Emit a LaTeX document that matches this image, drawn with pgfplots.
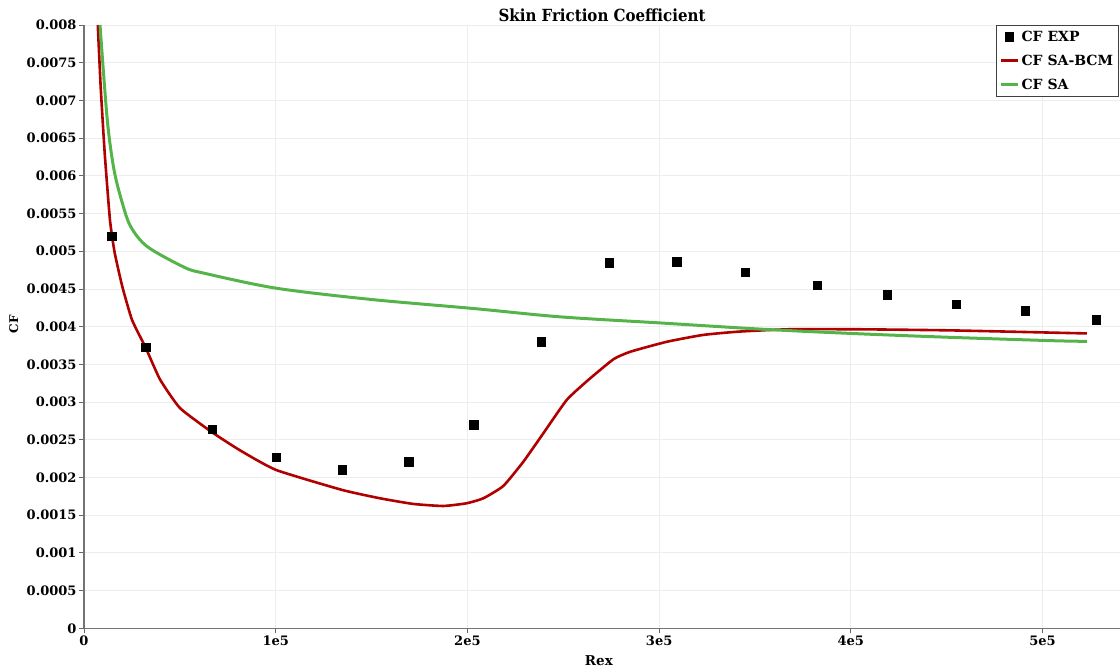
\documentclass[border=0pt]{standalone}
\usepackage{fontspec}
\setmainfont{DejaVu Serif}
\newfontfamily\condfont{DejaVu Serif Condensed}
\usepackage{pgfplots}
\pgfplotsset{compat=1.18}
\definecolor{bcm}{RGB}{176,0,0}
\definecolor{sa}{RGB}{84,180,74}
\begin{document}
\begin{tikzpicture}
\begin{axis}[
  scale only axis, width=1036pt, height=603.3pt,
  xmin=0, xmax=540400, ymin=0, ymax=0.008,
  axis x line*=bottom, axis y line*=left,
  xtick={0,100000,200000,300000,400000,500000},
  xticklabels={0,1e5,2e5,3e5,4e5,5e5},
  ytick={0,0.0005,0.001,0.0015,0.002,0.0025,0.003,0.0035,0.004,0.0045,0.005,0.0055,0.006,0.0065,0.007,0.0075,0.008},
  yticklabels={0,0.0005,0.001,0.0015,0.002,0.0025,0.003,0.0035,0.004,0.0045,0.005,0.0055,0.006,0.0065,0.007,0.0075,0.008},
  scaled x ticks=false, scaled y ticks=false,
  xtick pos=left, ytick pos=left,
  grid=major, major grid style={black!7, line width=0.8pt},
  tick align=outside, major tick length=5pt,
  tick style={black!60, line width=0.8pt},
  axis line style={black!55, line width=1.3pt},
  /pgf/number format/assume math mode=true,
  ticklabel style={font=\bfseries\fontsize{13}{13}\selectfont, text=black},
  xticklabel style={yshift=1pt},
  yticklabel style={xshift=1pt},
  title={Skin Friction Coefficient},
  title style={font=\condfont\bfseries\fontsize{16.7}{17}\selectfont, at={(axis description cs:0.5,1)}, anchor=base, yshift=-2.5pt},
  xlabel={Rex},
  xlabel style={font=\bfseries\fontsize{13.5}{14}\selectfont, at={(axis description cs:0.497,0)}, anchor=base, yshift=-37pt},
  ylabel={CF},
  ylabel style={font=\bfseries\fontsize{12}{12}\selectfont, at={(axis description cs:-0.0678,0.504)}, anchor=center},
  legend cell align=left,
  legend style={at={(axis description cs:0.999,1)}, anchor=north east, draw=black!75, line width=0.8pt,
    font=\bfseries\fontsize{14}{15}\selectfont, inner sep=3.5pt, row sep=8pt, fill=white},
]
\addplot[only marks, mark=square*, mark size=4.3pt, black] coordinates {
(14600,0.00520) (32300,0.00373) (66800,0.00264) (100200,0.00227)
(134600,0.00210) (169500,0.00221) (203400,0.00270) (238400,0.00380)
(273900,0.00485) (309300,0.00486) (344800,0.00472) (382400,0.00455)
(418900,0.00442) (454900,0.00430) (490900,0.00421) (527900,0.00409)
};
\addlegendentry{CF EXP}
\addplot[bcm, line width=2.6pt, no marks, smooth, tension=0.3] coordinates {
(7200,0.00800) (8700,0.00718) (10800,0.00630) (13560,0.00541) (16000,0.00498) (20000,0.00453)
(25040,0.00409) (32190,0.00372) (39650,0.00330) (50080,0.00292) (66770,0.00260)
(81380,0.00236) (100160,0.00210) (134600,0.001835) (154400,0.001724) (171800,0.001649)
(187400,0.001622) (199600,0.001658) (208300,0.001724) (218700,0.001887) (229200,0.00221)
(239600,0.002586) (251800,0.003028) (262900,0.00329) (276300,0.00357) (285300,0.00367)
(304100,0.00380) (322900,0.00389) (341500,0.003934) (367500,0.003965) (404800,0.003965)
(453300,0.00395) (523100,0.00391)
};
\addlegendentry{CF SA-BCM}
\addplot[sa, line width=3pt, no marks, smooth, tension=0.5] coordinates {
(8350,0.00800) (12150,0.00674) (15650,0.00608) (19980,0.00564) (24360,0.005326)
(33020,0.005061) (52160,0.004789) (62600,0.004709) (100200,0.00451) (150000,0.00436)
(203400,0.00424) (248300,0.00413) (300000,0.00405) (354500,0.003965) (400000,0.00391)
(450000,0.00386) (504800,0.003814) (523100,0.003805)
};
\addlegendentry{CF SA}
\end{axis}
\pgfresetboundingbox
\path (-84pt,-43.7pt) rectangle (1036pt,628.3pt);
\end{tikzpicture}
\end{document}
